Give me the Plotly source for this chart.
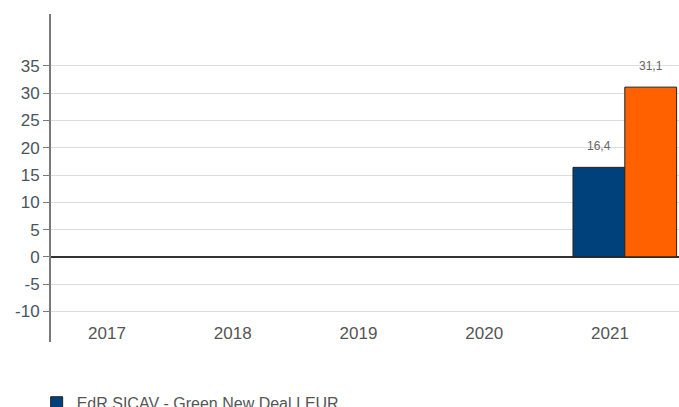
import plotly.graph_objects as go

years = ["2017", "2018", "2019", "2020", "2021"]
fund_name = "EdR SICAV - Green New Deal I EUR"
fund_values = [None, None, None, None, 16.4]
index_name = "Indice de référence"
index_values = [None, None, None, None, 31.1]
y_ticks = [-10, -5, 0, 5, 10, 15, 20, 25, 30, 35]
y_tick_labels = [str(t) for t in y_ticks]

font_family = "Arial, Liberation Sans, sans-serif"
blue = "#00417b"
orange = "#ff6100"

fig = go.Figure()
fig.add_trace(go.Bar(
    x=years, y=fund_values, name=fund_name,
    marker=dict(color=blue, line=dict(color="#222222", width=1)),
    width=0.412, offset=-0.294,
))
fig.add_trace(go.Bar(
    x=years, y=index_values, name=index_name,
    marker=dict(color=orange, line=dict(color="#222222", width=1)),
    width=0.412, offset=0.118,
))

# value labels
for vals, off in ((fund_values, -0.088), (index_values, 0.324)):
    for i, v in enumerate(vals):
        if v is None:
            continue
        fig.add_annotation(
            x=i + off, y=v, xref="x", yref="y",
            text=f"{v:.1f}".replace(".", ","), showarrow=False,
            yshift=21, font=dict(size=12, color="#666666", family=font_family),
        )

fig.update_layout(
    width=679, height=407,
    margin=dict(l=51, r=0, t=14, b=65, autoexpand=False),
    paper_bgcolor="white", plot_bgcolor="white",
    barmode="overlay",
    separators=", ",
    font=dict(family=font_family, color="#555555"),
    showlegend=True,
    legend=dict(
        orientation="v", xref="container", yref="container",
        x=0.054, y=0.052, xanchor="left", yanchor="top",
        font=dict(size=16, color="#555555", family=font_family),
        traceorder="normal", bgcolor="rgba(0,0,0,0)",
    ),
)
fig.update_xaxes(
    type="category", range=[-0.445, 4.549],
    showgrid=False, showline=False, zeroline=False, ticks="",
    tickfont=dict(size=17, color="#555555", family=font_family),
    ticklabelstandoff=-21,
)
fig.update_yaxes(
    range=[-15.6, 44.5],
    tickvals=y_ticks, ticktext=y_tick_labels,
    showgrid=True, gridcolor="#dddddd", gridwidth=1,
    showline=True, linecolor="#7a7a7a", linewidth=2,
    zeroline=True, zerolinecolor="#333333", zerolinewidth=1.5,
    ticks="outside", ticklen=6, tickcolor="#7a7a7a", tickwidth=1,
    tickfont=dict(size=17, color="#4a5560", family=font_family),
)

fig.write_html("out.html", config={"displayModeBar": False},
               post_script="document.body.style.margin='0';")
